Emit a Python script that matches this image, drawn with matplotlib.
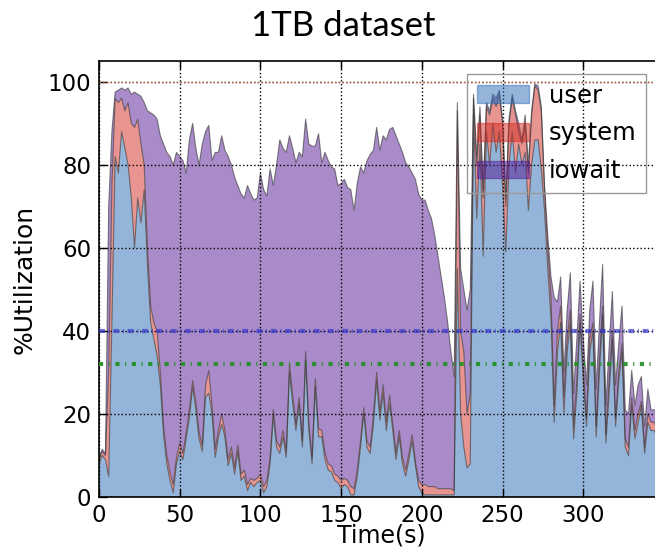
import numpy as np
import matplotlib
matplotlib.use("Agg")
import matplotlib.pyplot as plt
from matplotlib.patches import Patch

plt.rcParams['lines.scale_dashes'] = False

# sample times (s)
time_s = np.arange(0, 350, 2)

user = [8, 10, 9, 5, 42, 82, 78, 88, 84, 80, 72, 60, 72, 66, 74, 56, 42, 38, 34, 27,
        15, 8, 4, 1, 8, 11, 9, 14, 19, 26.5, 21, 14, 11, 24, 25, 20, 9.5, 14.5, 17.5, 14.5,
        7.5, 10.5, 5.5, 11, 4, 5, 1.5, 3.5, 2.5, 3.5, 4, 1, 2.5, 8, 19.5, 12, 10.5, 14.5, 9.5, 30,
        22.5, 16, 22.5, 12, 33, 16, 8, 26.5, 14.5, 14.5, 9, 6.5, 6, 4, 3.5, 2, 3, 2.5, 0.5, 0.5,
        5, 12, 20, 12, 10.5, 17.5, 28, 18.5, 25, 16, 22.5, 16, 9, 14.5, 8, 5, 9, 13.5, 7.5, 2.5,
        1, 0.5, 0.5, 0.5, 0.5, 0.5, 0.5, 0.5, 0.5, 0.5, 0.5, 55, 20, 12, 7, 8, 92, 67, 85, 58,
        88, 80, 90, 83, 88, 75, 59, 80, 88, 78, 85, 80, 83, 69, 80, 86, 86, 79, 69, 55,
        43, 18, 35, 42, 20, 35, 42, 14, 25, 42, 28, 17, 35, 40, 14.5, 30, 44, 13, 25, 38,
        17, 28, 35, 12, 10, 22, 14, 18, 22, 10.5, 18, 16, 16, 14, 15]

system = [1, 1, 1, 25, 33, 14, 17, 8, 9, 15, 18, 29, 19, 19, 6, 4, 4, 4, 6, 3,
          2, 2, 2, 2, 1.5, 2, 1.5, 1.5, 2, 1.5, 2, 1.5, 1.5, 3, 5.5, 2, 2, 1.5, 2.5, 1.5,
          1.5, 1.5, 1.5, 1.5, 1.5, 1.5, 1.5, 1, 1.5, 1, 1.5, 1.5, 1.5, 1.5, 1.5, 1.5, 1.5, 1.5, 1.5, 2,
          2, 1.5, 1.5, 1.5, 2, 1.5, 1.5, 2, 2, 1.5, 1.5, 1.5, 1.5, 1.5, 1.5, 2, 1.5, 1.5, 2, 1.5,
          1.5, 1.5, 1.5, 1.5, 1.5, 2, 2, 2, 2, 2, 2, 1.5, 1.5, 1.5, 1.5, 1.5, 1.5, 1.5, 1, 1.5,
          2, 2.5, 2, 2, 2, 1.5, 1.5, 1.5, 1.5, 1.5, 1, 38, 20, 23, 13, 17, 4, 13, 7, 14,
          6, 12, 6, 11, 9, 15, 11, 10, 8, 14, 3, 5, 7, 9, 12, 13, 12, 14, 5, 5,
          5, 4, 5, 4, 4, 3, 3, 3, 3, 2, 3, 2, 3, 2, 2.5, 3, 2, 2, 3, 2,
          2, 2, 2, 2, 2, 2, 2, 2, 1, 1.5, 2, 2, 2, 2, 2]

iowait = [0.5, 0.5, 0.5, 40, 13, 1.5, 3, 2.5, 5, 3.5, 7, 8.5, 6, 11.5, 15, 33, 46.5, 50, 51, 57,
          68, 73, 76, 77, 73.5, 69, 70.5, 62.5, 65, 62, 61, 64.5, 72.5, 61, 59, 59, 71.5, 67, 67, 67.5,
          73, 68, 70, 62.5, 67.5, 65.5, 72, 68.5, 67.5, 67.5, 72.5, 71.5, 68.5, 69.5, 54, 66.5, 74, 68, 72, 55,
          59.5, 63, 59, 68.5, 56, 67.5, 75, 56, 71, 64.5, 72.5, 73, 72, 73.5, 70, 71.5, 72, 70.5, 71.5, 67,
          69, 66, 56.5, 67.5, 70.5, 64, 59, 63, 60, 68, 64, 71.5, 76.5, 69, 73.5, 74, 69, 63, 68, 69,
          68.5, 68.5, 66.5, 64.5, 60.5, 56, 51, 46, 40, 33, 27.5, 2, 15, 15, 25, 25, 1, 2, 2, 2,
          1, 1, 1, 2, 1, 1, 2, 1, 1, 1, 2, 1, 2, 2, 1, 0.5, 1, 1, 1, 3,
          5, 26, 7, 7, 6, 7, 9, 8, 10, 8, 7, 8, 7, 10, 9, 9, 10, 7, 8, 9.5,
          8, 7, 9, 7, 8, 6.5, 6, 7, 6, 5, 6, 3, 3, 4, 5]

series_labels = ["user", "system", "iowait"]
ref_lines = [100, 40, 32]

fill_colors = ["#2b6cb4", "#d22b22", "#531993"]

fig = plt.figure(figsize=(6.55, 5.51), dpi=100)
ax = fig.add_axes([99 / 655, 54 / 551, 565 / 655, 436 / 551])

ax.stackplot(time_s, user, system, iowait, colors=fill_colors, alpha=0.5,
             linewidth=0, zorder=1)
levels = np.cumsum(np.vstack([user, system, iowait]), axis=0)
for lvl in levels:
    ax.plot(time_s, lvl, color="#333333", lw=0.8, alpha=0.6, zorder=2)

ax.axhline(ref_lines[0], color="#cc6a44", ls=":", lw=1.0, zorder=4)
ax.axhline(ref_lines[1], color="#3a3ad0", lw=3, alpha=0.7, zorder=4,
           dashes=(4.3, 2.6, 0.8, 2.6))
ax.axhline(ref_lines[2], color="#1f8f1f", lw=3, alpha=0.9, zorder=4,
           dashes=(3, 4, 0.8, 4))

ax.set_xlim(0, 350)
ax.set_ylim(0, 105)
ax.set_xticks([0, 50, 100, 150, 200, 250, 300])
ax.set_yticks([0, 20, 40, 60, 80, 100])
ax.grid(True, color="black", ls=":", lw=1.0, zorder=3)
ax.set_axisbelow(False)
ax.tick_params(direction="in", length=6, width=1, top=True, right=True,
               labelsize=16.5, pad=5.5)
ax.tick_params(axis="x", pad=5)
for sp in ax.spines.values():
    sp.set_linewidth(1.2)

ax.set_ylabel("%Utilization", fontsize=18, labelpad=8)
ax.set_xlabel("Time(s)", fontsize=17, labelpad=-2.5)

handles = [Patch(facecolor=c, alpha=0.5, edgecolor=c) for c in fill_colors]
leg = ax.legend(handles, series_labels, loc="upper right",
                bbox_to_anchor=(646 / 655, 1 - 74 / 551),
                bbox_transform=fig.transFigure, fontsize=17.5,
                handlelength=2.15, handleheight=0.74, labelspacing=0.56,
                handletextpad=0.8, borderpad=0.4, borderaxespad=0,
                fancybox=False, framealpha=1)
leg.get_frame().set_facecolor("none")
leg.get_frame().set_edgecolor("#9a9a9a")

fig.text(343 / 655, 1 - 36.5 / 551, "1TB dataset", fontsize=25,
         family="Lato", ha="center", va="baseline")

fig.savefig("out.png", dpi=100)
